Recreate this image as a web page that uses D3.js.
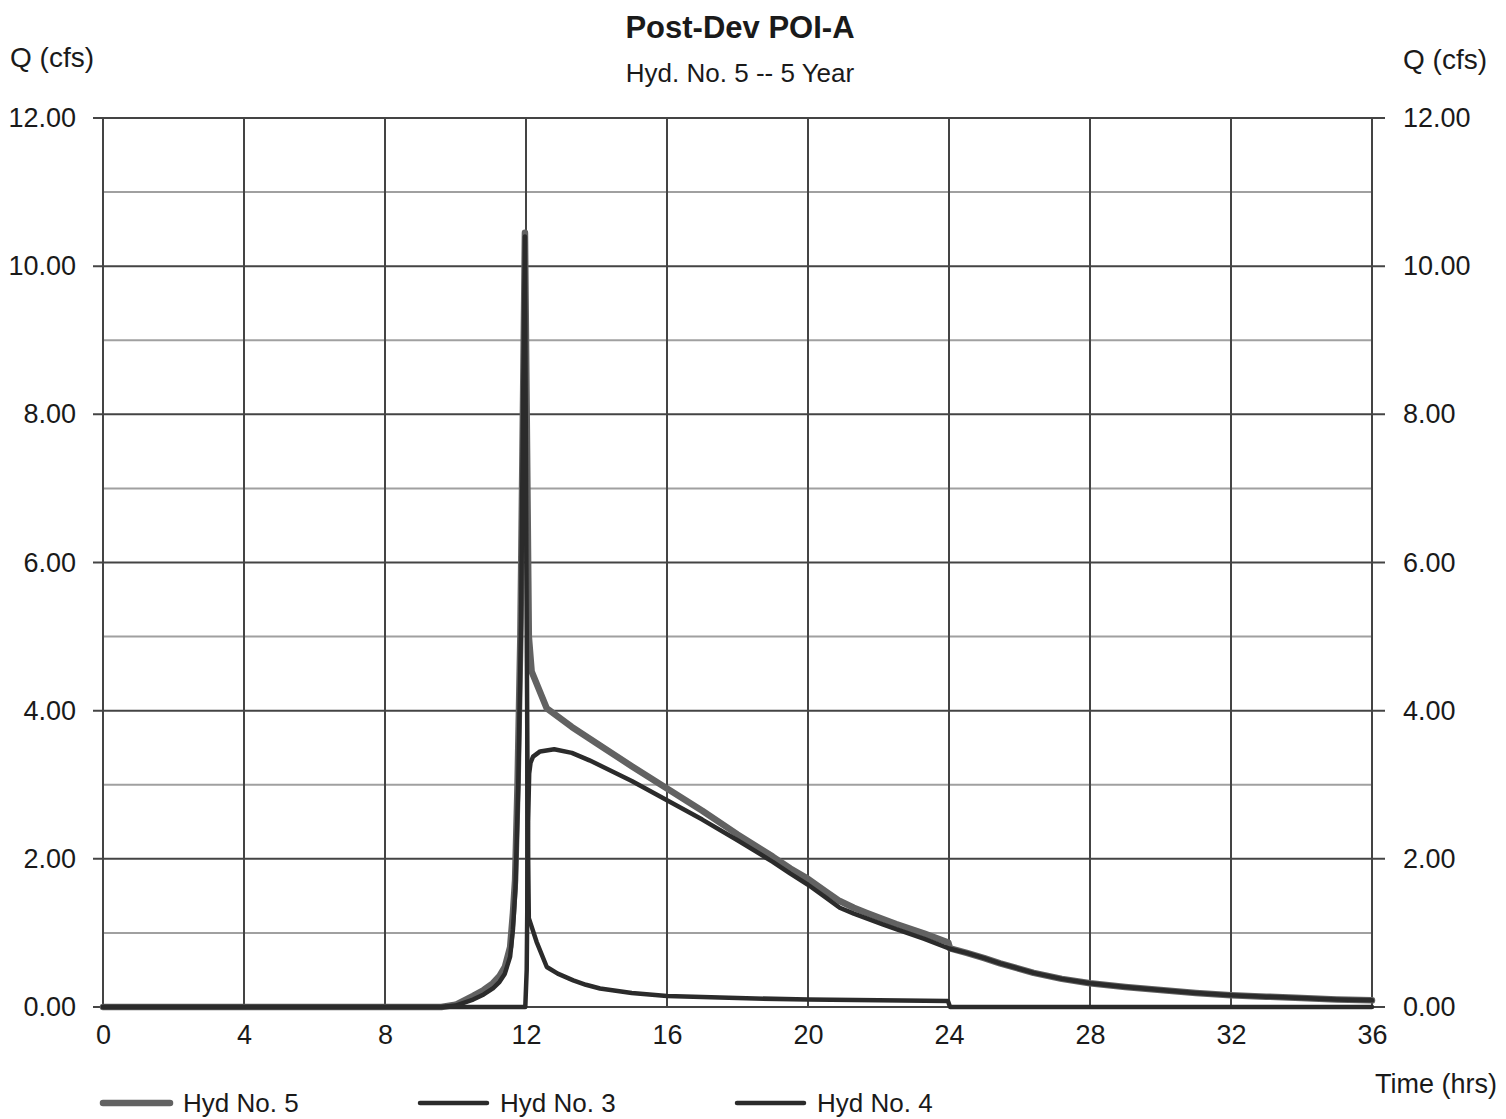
<!DOCTYPE html>
<html>
<head>
<meta charset="utf-8">
<script src="https://cdn.jsdelivr.net/npm/d3@7/dist/d3.min.js"></script>
<style>
  body { margin: 0; background: #fff; }
  svg text { font-family: "Liberation Sans", Arial, sans-serif; fill: #1a1a1a; }
</style>
</head>
<body>
<div id="chart"></div>
<script>
// chart size
var width = 1506;
var height = 1119;

// data: [time (hrs), Q (cfs)]
var hyd5 = [[0,0],[9.6,0],[10.0,0.03],[10.5,0.15],[10.8,0.23],[11.06,0.32],[11.25,0.42],[11.4,0.54],
  [11.55,0.81],[11.63,1.27],[11.69,1.71],[11.76,3.0],[11.84,5.0],[11.9,7.5],[11.97,10.45],[12.03,7.5],
  [12.08,5.0],[12.16,4.53],[12.59,4.03],[13.3,3.78],[14.1,3.53],[15,3.25],[16,2.95],[17,2.65],[18,2.33],
  [19,2.03],[19.5,1.87],[20,1.73],[20.5,1.56],[20.9,1.43],[21.3,1.34],[21.67,1.27],[22.1,1.19],
  [22.5,1.12],[23.3,0.99],[23.98,0.87],[24.03,0.79],[24.5,0.73],[25,0.66],[25.45,0.59],[26.4,0.46],
  [27.2,0.38],[28,0.32],[29,0.27],[30,0.23],[31,0.19],[32,0.16],[33,0.14],[34,0.12],[35,0.1],[36,0.09]];

var hyd3 = [[0,0],[9.6,0],[10.0,0.02],[10.5,0.1],[10.8,0.17],[11.06,0.25],[11.25,0.34],[11.4,0.45],
  [11.55,0.68],[11.63,1.05],[11.7,1.6],[11.78,3.0],[11.86,5.2],[11.91,7.8],[11.97,10.4],[12.01,6.0],
  [12.05,2.5],[12.08,1.2],[12.3,0.88],[12.59,0.54],[12.9,0.45],[13.34,0.36],[13.7,0.3],[14.1,0.25],
  [15,0.19],[16,0.15],[18,0.12],[20,0.1],[22,0.09],[23.97,0.08],[24.03,0],[36,0]];

var hyd4 = [[0,0],[11.98,0],[12.02,0.5],[12.06,2.5],[12.09,3.15],[12.13,3.3],[12.2,3.38],[12.4,3.45],
  [12.8,3.48],[13.3,3.43],[13.8,3.33],[15,3.05],[16,2.79],[17,2.53],[18,2.25],[19,1.96],[19.5,1.8],
  [20,1.65],[20.5,1.48],[20.9,1.34],[21.3,1.26],[21.7,1.19],[22.1,1.12],[22.5,1.05],[23.3,0.92],
  [24,0.79],[24.5,0.73],[25,0.66],[25.45,0.59],[26.4,0.46],[27.2,0.38],[28,0.32],[29,0.27],
  [30,0.23],[31,0.19],[32,0.16],[33,0.14],[34,0.12],[35,0.1],[36,0.09]];

var xTicks = [0, 4, 8, 12, 16, 20, 24, 28, 32, 36];
var yMajor = [0, 2, 4, 6, 8, 10, 12];
var yMinor = [1, 3, 5, 7, 9, 11];

var series = [
  {name: "Hyd No. 5", data: hyd5, color: "#626262", w: 6.5},
  {name: "Hyd No. 3", data: hyd3, color: "#2b2b2b", w: 4.5},
  {name: "Hyd No. 4", data: hyd4, color: "#2b2b2b", w: 4.5}
];

var margin = {left: 103, right: 134, top: 118, bottom: 112};

var svg = d3.select("#chart").append("svg")
  .attr("width", width)
  .attr("height", height);

var x = d3.scaleLinear().domain([0, 36]).range([margin.left, width - margin.right]);
var y = d3.scaleLinear().domain([0, 12]).range([height - margin.bottom, margin.top]);

// minor gridlines
svg.append("g").selectAll("line").data(yMinor).enter().append("line")
  .attr("x1", x(0)).attr("x2", x(36))
  .attr("y1", d => y(d)).attr("y2", d => y(d))
  .attr("stroke", "#a0a0a0").attr("stroke-width", 2);

// vertical gridlines
svg.append("g").selectAll("line").data(xTicks).enter().append("line")
  .attr("x1", d => x(d)).attr("x2", d => x(d))
  .attr("y1", y(0)).attr("y2", y(12))
  .attr("stroke", "#444").attr("stroke-width", 2);

// major gridlines, sticking out a bit past both sides
svg.append("g").selectAll("line").data(yMajor).enter().append("line")
  .attr("x1", x(0) - 10).attr("x2", x(36) + 13)
  .attr("y1", d => y(d)).attr("y2", d => y(d))
  .attr("stroke", "#444").attr("stroke-width", 2);

// left and right axis labels
var yLeft = d3.axisLeft(y).tickValues(yMajor).tickFormat(d3.format(".2f")).tickSize(0).tickPadding(27);
var yRight = d3.axisRight(y).tickValues(yMajor).tickFormat(d3.format(".2f")).tickSize(0).tickPadding(31);
var xAxis = d3.axisBottom(x).tickValues(xTicks).tickFormat(d3.format("d")).tickSize(0).tickPadding(18);

svg.append("g").attr("transform", "translate(" + x(0) + ",0)").call(yLeft)
  .call(g => g.select(".domain").remove())
  .selectAll("text").style("font-size", "27px").attr("fill", "#1a1a1a");
svg.append("g").attr("transform", "translate(" + x(36) + ",0)").call(yRight)
  .call(g => g.select(".domain").remove())
  .selectAll("text").style("font-size", "27px").attr("fill", "#1a1a1a");
svg.append("g").attr("transform", "translate(0," + y(0) + ")").call(xAxis)
  .call(g => g.select(".domain").remove())
  .selectAll("text").style("font-size", "27px").attr("fill", "#1a1a1a");

// hydrograph lines
var line = d3.line()
  .x(d => x(d[0]))
  .y(d => y(d[1]));

svg.append("g").selectAll("path").data(series).enter().append("path")
  .attr("d", d => line(d.data))
  .attr("fill", "none")
  .attr("stroke", d => d.color)
  .attr("stroke-width", d => d.w)
  .attr("stroke-linejoin", "round")
  .attr("stroke-linecap", "round");

// titles
svg.append("text").attr("x", 740).attr("y", 38).attr("text-anchor", "middle")
  .style("font-size", "31px").style("font-weight", "bold").text("Post-Dev POI-A");
svg.append("text").attr("x", 740).attr("y", 82).attr("text-anchor", "middle")
  .style("font-size", "26px").text("Hyd. No. 5 -- 5 Year");
svg.append("text").attr("x", 10).attr("y", 67).style("font-size", "28px").text("Q (cfs)");
svg.append("text").attr("x", 1403).attr("y", 69).style("font-size", "28px").text("Q (cfs)");
svg.append("text").attr("x", 1497).attr("y", 1093).attr("text-anchor", "end")
  .style("font-size", "27px").text("Time (hrs)");

// legend (kept clear of the bottom edge)
var legendX = [103, 420, 737];
var legend = svg.append("g").selectAll("g").data(series).enter().append("g")
  .attr("transform", (d, i) => "translate(" + legendX[i] + ",1103)");
legend.append("line")
  .attr("x1", 0).attr("x2", 67).attr("y1", 0).attr("y2", 0)
  .attr("stroke", d => d.color).attr("stroke-width", d => d.w)
  .attr("stroke-linecap", "round");
legend.append("text").attr("x", 80).attr("y", 9)
  .style("font-size", "26px").text(d => d.name);
</script>
</body>
</html>
